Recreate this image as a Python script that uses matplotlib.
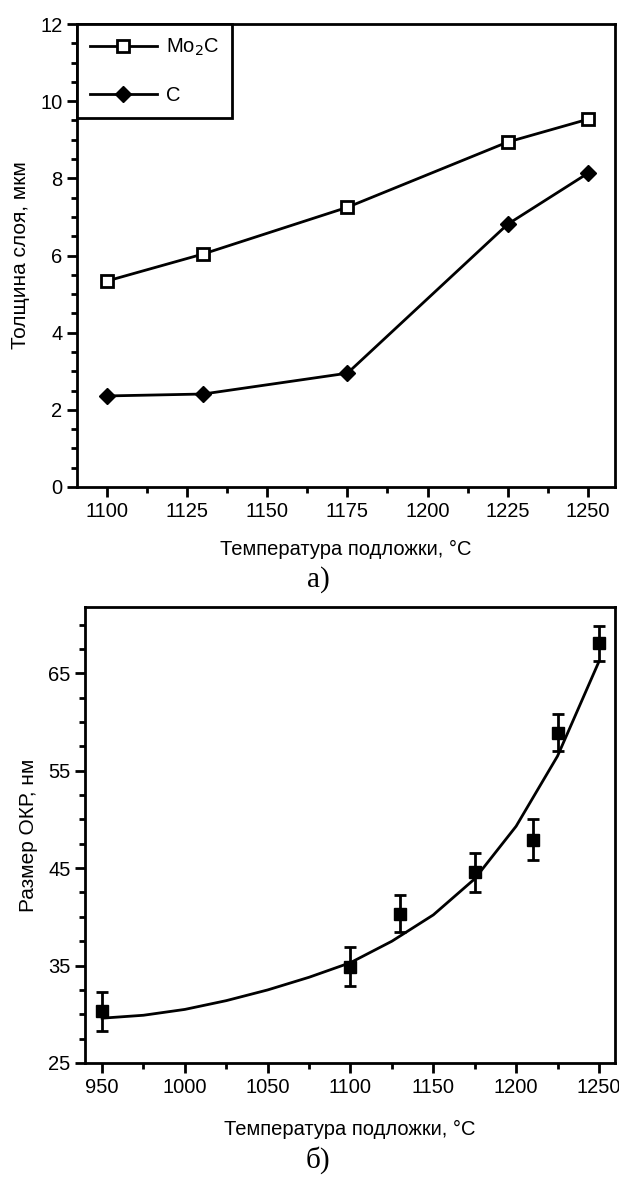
import matplotlib
matplotlib.use("Agg")
import matplotlib.pyplot as plt
from matplotlib.ticker import MultipleLocator

plt.rcParams['font.family'] = ['Liberation Sans', 'DejaVu Sans']

# panel a) - layer thickness
temp_a = [1100, 1130, 1175, 1225, 1250]
mo2c = [5.34, 6.04, 7.25, 8.94, 9.53]
carbon = [2.36, 2.41, 2.95, 6.81, 8.13]

# panel b) - coherent scattering region size
temp_b = [950, 1100, 1130, 1175, 1210, 1225, 1250]
okr = [30.3, 34.9, 40.3, 44.6, 47.9, 58.9, 68.1]
okr_err = [2.0, 2.0, 1.9, 2.0, 2.1, 1.9, 1.8]

# smooth fit curve
fit_t = [950, 975, 1000, 1025, 1050, 1075, 1100, 1125, 1150, 1175, 1200, 1225, 1250]
fit_v = [29.6, 29.9, 30.5, 31.4, 32.5, 33.8, 35.3, 37.5, 40.2, 43.9, 49.3, 56.5, 66.2]

W, H = 619, 1182
fig = plt.figure(figsize=(W / 100, H / 100), dpi=100)

def box(l, t, r, b):
    return [l / W, 1 - b / H, (r - l) / W, (b - t) / H]

def style(ax):
    for s in ax.spines.values():
        s.set_linewidth(2.0)
    ax.tick_params(which='major', direction='out', length=7.5, width=2, labelsize=14.5, pad=3)
    ax.tick_params(which='minor', direction='out', length=4, width=2)

# ---------------- a)
ax1 = fig.add_axes(box(77, 24, 615, 487))
ax1.plot(temp_a, mo2c, '-s', color='black', lw=2, ms=9, mfc='white', mec='black', mew=2,
         label='Mo$_2$C')
ax1.plot(temp_a, carbon, '-D', color='black', lw=2, ms=8, mfc='black', mec='black',
         label='C')
ax1.set_xlim(1090.6, 1258.5)
ax1.set_ylim(0, 12)
ax1.xaxis.set_major_locator(MultipleLocator(25))
ax1.xaxis.set_minor_locator(MultipleLocator(12.5))
ax1.yaxis.set_major_locator(MultipleLocator(2))
ax1.yaxis.set_minor_locator(MultipleLocator(0.5))
style(ax1)
ax1.set_xlabel('Температура подложки, °C', fontsize=14.5, labelpad=14)
ax1.set_ylabel('Толщина слоя, мкм', fontsize=15, labelpad=7)
leg = ax1.legend(loc='upper left', borderaxespad=0, fancybox=False, edgecolor='black',
                 framealpha=1, fontsize=14.5, handlelength=3.3, labelspacing=1.35,
                 borderpad=0.65, handletextpad=0.45, numpoints=1)
leg.get_frame().set_linewidth(2)
fig.text(318 / W, 1 - 580 / H, 'а)', ha='center', va='center', fontsize=21,
         family='Liberation Serif')

# ---------------- б)
ax2 = fig.add_axes(box(85, 607, 615, 1063))
ax2.plot(fit_t, fit_v, '-', color='black', lw=2)
ax2.errorbar(temp_b, okr, yerr=okr_err, fmt='s', color='black', ms=8, capsize=4,
             elinewidth=2, capthick=2)
ax2.set_xlim(939.7, 1259.7)
ax2.set_ylim(25, 71.8)
ax2.xaxis.set_major_locator(MultipleLocator(50))
ax2.xaxis.set_minor_locator(MultipleLocator(25))
ax2.yaxis.set_minor_locator(MultipleLocator(2.5))
ax2.set_yticks([25, 35, 45, 55, 65])
style(ax2)
ax2.set_xlabel('Температура подложки, °C', fontsize=14.5, labelpad=17)
ax2.set_ylabel('Размер ОКР, нм', fontsize=15, labelpad=7)
fig.text(318 / W, 1 - 1160 / H, 'б)', ha='center', va='center', fontsize=21,
         family='Liberation Serif')

fig.savefig('out.png', dpi=100)
